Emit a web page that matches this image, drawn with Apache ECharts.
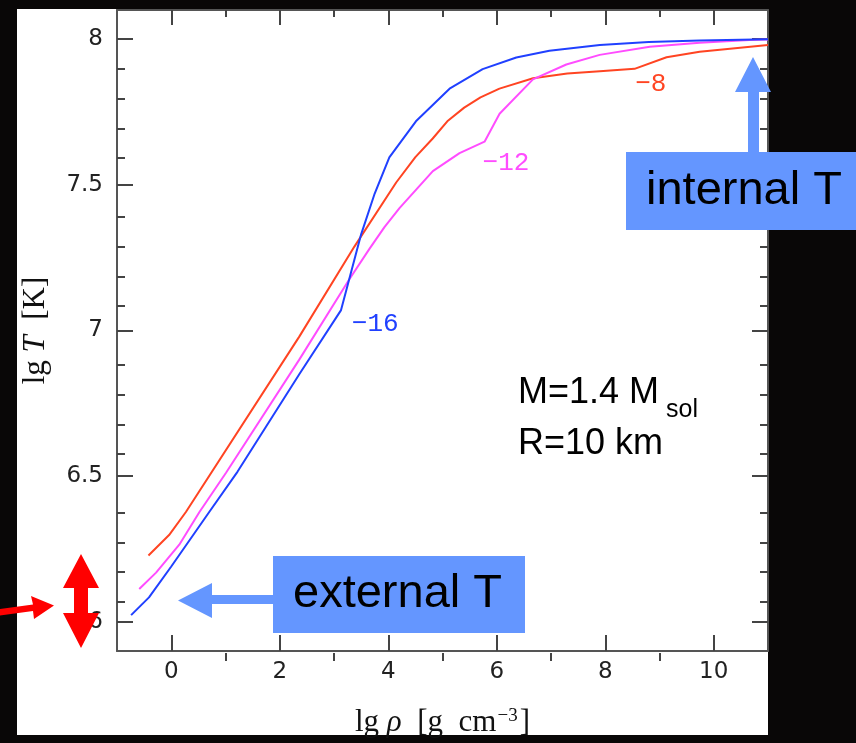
<!DOCTYPE html>
<html><head><meta charset="utf-8">
<script src="https://cdn.jsdelivr.net/npm/echarts@6/dist/echarts.min.js"></script>
<style>html,body{margin:0;padding:0;background:#090707;}#c{width:856px;height:743px;}</style>
</head><body><div id="c"></div>
<script>
// lg rho [g cm^-3] and lg T [K] for three envelope models (label = lg of parameter)
const rhoM8 = [-0.42, -0.04, 0.27, 2.36, 3.376, 4.146, 4.50, 4.82, 5.10, 5.40, 5.70, 6.05, 6.67, 7.30, 7.90, 8.54, 9.13, 9.74, 11.0];
const tM8   = [6.228, 6.298, 6.377, 6.979, 7.288, 7.508, 7.595, 7.659, 7.72, 7.765, 7.80, 7.83, 7.866, 7.882, 7.890, 7.898, 7.938, 7.957, 7.980];

const rhoM12 = [-0.59, -0.28, 0.148, 0.52, 1.01, 2.36, 3.28, 3.653, 3.93, 4.207, 4.822, 5.314, 5.775, 6.052, 6.667, 7.282, 7.897, 8.82, 9.74, 10.66, 11.0];
const tM12   = [6.113, 6.169, 6.265, 6.377, 6.512, 6.90, 7.175, 7.28, 7.355, 7.42, 7.547, 7.609, 7.648, 7.744, 7.862, 7.913, 7.946, 7.974, 7.988, 7.997, 7.999];

const rhoM16 = [-0.74, -0.41, 0.0, 0.70, 1.22, 2.36, 3.13, 3.30, 3.50, 3.75, 4.02, 4.51, 5.13, 5.74, 6.36, 6.97, 7.90, 8.80, 9.74, 11.0];
const tM16   = [6.023, 6.084, 6.19, 6.377, 6.515, 6.85, 7.07, 7.19, 7.33, 7.47, 7.594, 7.718, 7.83, 7.897, 7.937, 7.96, 7.98, 7.99, 7.995, 8.0];

const seriesNames = ['−8', '−12', '−16'];
const xMajor = [0, 2, 4, 6, 8, 10];
const xMinor = [1, 3, 5, 7, 9];
const yMajor = [6, 6.5, 7, 7.5, 8];
const yMinor = [6.1, 6.2, 6.3, 6.4, 6.6, 6.7, 6.8, 6.9, 7.1, 7.2, 7.3, 7.4, 7.6, 7.7, 7.8, 7.9];
const yTickLabels = ['6', '6.5', '7', '7.5', '8'];
const xRange = [-1, 11];
const yRange = [5.9, 8.1];
// anchor (data coords) for curve labels
const labelRho = [8.84, 6.17, 3.76];
const labelT   = [7.845, 7.575, 7.022];

const colors = ['#ff4422', '#ff4cff', '#2040ff'];
const zip = (a, b) => a.map((v, i) => [v, b[i]]);

const chart = echarts.init(document.getElementById('c'), null, {renderer: 'canvas'});
const frame = {show: true, onZero: false, lineStyle: {color: '#555', width: 2}};
const noLine = {show: false, onZero: false};
const tickStyle = {color: '#444', width: 2};
const gridRect = {left: 117, top: 10, right: 88, bottom: 82};

function xAx(gridIndex, pos, vals, len, showLine, labels) {
  return {
    type: 'value', gridIndex, position: pos, min: xRange[0], max: xRange[1],
    axisLine: showLine ? frame : noLine,
    axisTick: {show: true, inside: true, length: len, customValues: vals, lineStyle: tickStyle},
    axisLabel: labels ? {show: true, customValues: vals, fontFamily: 'DejaVu Sans', fontSize: 23, color: '#222', margin: 10} : {show: false},
    splitLine: {show: false}
  };
}
function yAx(gridIndex, pos, vals, len, showLine, labels) {
  return {
    type: 'value', gridIndex, position: pos, min: yRange[0], max: yRange[1],
    axisLine: showLine ? frame : noLine,
    axisTick: {show: true, inside: true, length: len, customValues: vals, lineStyle: tickStyle},
    axisLabel: labels ? {show: true, customValues: vals, fontFamily: 'DejaVu Sans', fontSize: 23, color: '#222', margin: 14,
      formatter: v => yTickLabels[yMajor.findIndex(m => Math.abs(m - v) < 1e-6)] || ''} : {show: false},
    splitLine: {show: false}
  };
}

const xAxes = [xAx(0, 'bottom', xMajor, 16, true, true), xAx(0, 'top', xMajor, 15, true, false),
               xAx(1, 'bottom', xMinor, 8, false, false), xAx(1, 'top', xMinor, 7, false, false)];
Object.assign(xAxes[0], {
  name: '{a|lg }{i|ρ}{a|  [g  cm}{s|−3}{a|]}', nameLocation: 'middle', nameGap: 56,
  nameTextStyle: {rich: {
    a: {fontFamily: 'Liberation Serif', fontSize: 31, color: '#111'},
    i: {fontFamily: 'Liberation Serif', fontStyle: 'italic', fontSize: 31, color: '#111'},
    s: {fontFamily: 'Liberation Serif', fontSize: 19, color: '#111', verticalAlign: 'top', padding: [0, 2, 12, 1]}
  }}
});
const yAxes = [yAx(0, 'left', yMajor, 16, true, true), yAx(0, 'right', yMajor, 16, true, false),
               yAx(1, 'left', yMinor, 8, false, false), yAx(1, 'right', yMinor, 8, false, false)];
Object.assign(yAxes[0], {
  name: '{a|lg }{i|T}{a|  [K]}', nameLocation: 'middle', nameGap: 66, nameRotate: 90,
  nameTextStyle: {rich: {
    a: {fontFamily: 'Liberation Serif', fontSize: 31, color: '#111'},
    i: {fontFamily: 'Liberation Serif', fontStyle: 'italic', fontSize: 31, color: '#111'}
  }}
});

const series = [zip(rhoM8, tM8), zip(rhoM12, tM12), zip(rhoM16, tM16)].map((d, i) => ({
  type: 'line', name: seriesNames[i], xAxisIndex: 0, yAxisIndex: 0, data: d,
  showSymbol: false, symbol: 'none', lineStyle: {color: colors[i], width: 2}, z: 3, animation: false
}));

chart.setOption({
  animation: false,
  backgroundColor: '#090707',
  grid: [Object.assign({}, gridRect), Object.assign({}, gridRect)],
  xAxis: xAxes, yAxis: yAxes, series
});

const blue = '#6496ff';
const gfx = [
  {type: 'rect', shape: {x: 17, y: 9, width: 751, height: 726}, style: {fill: '#ffffff'}, z: -10, silent: true},
  {type: 'text', style: {text: 'M=1.4 M', x: 518, y: 393.5, font: '36px "Liberation Sans"', fill: '#000', verticalAlign: 'middle'}, z: 50},
  {type: 'text', style: {text: 'sol', x: 666, y: 410, font: '25px "Liberation Sans"', fill: '#000', verticalAlign: 'middle'}, z: 50},
  {type: 'text', style: {text: 'R=10 km', x: 518, y: 444.5, font: '36px "Liberation Sans"', fill: '#000', verticalAlign: 'middle'}, z: 50},
  {type: 'rect', shape: {x: 626, y: 152, width: 230, height: 78}, style: {fill: blue}, z: 60},
  {type: 'text', style: {text: 'internal T', x: 646, y: 191, font: '47px "Liberation Sans"', fill: '#000', verticalAlign: 'middle'}, z: 61},
  {type: 'polygon', shape: {points: [[748,152],[748,92],[735,92],[753,57],[771,92],[759,92],[759,152]]}, style: {fill: blue}, z: 60},
  {type: 'rect', shape: {x: 273, y: 556, width: 252, height: 77}, style: {fill: blue}, z: 60},
  {type: 'text', style: {text: 'external T', x: 293, y: 594.5, font: '47px "Liberation Sans"', fill: '#000', verticalAlign: 'middle'}, z: 61},
  {type: 'polygon', shape: {points: [[273,595],[212,595],[212,583],[178,600.5],[212,618],[212,604],[273,604]]}, style: {fill: blue}, z: 60},
  {type: 'polygon', shape: {points: [[81,554],[99,588],[88,588],[88,613],[99,613],[81,648],[63,613],[74,613],[74,588],[63,588]]}, style: {fill: '#ff0000'}, z: 60},
  {type: 'polygon', shape: {points: [[0,609],[33,604.5],[31,596],[54,605.5],[34,619],[33,611],[0,615.5]]}, style: {fill: '#ff0000'}, z: 60}
];
labelRho.forEach((r, i) => {
  const p = chart.convertToPixel({xAxisIndex: 0, yAxisIndex: 0}, [r, labelT[i]]);
  gfx.push({type: 'text', style: {text: seriesNames[i], x: p[0], y: p[1], font: '26px "Liberation Mono"', fill: colors[i], align: 'center', verticalAlign: 'middle'}, z: 40});
});
chart.setOption({graphic: {elements: gfx}});
</script></body></html>
